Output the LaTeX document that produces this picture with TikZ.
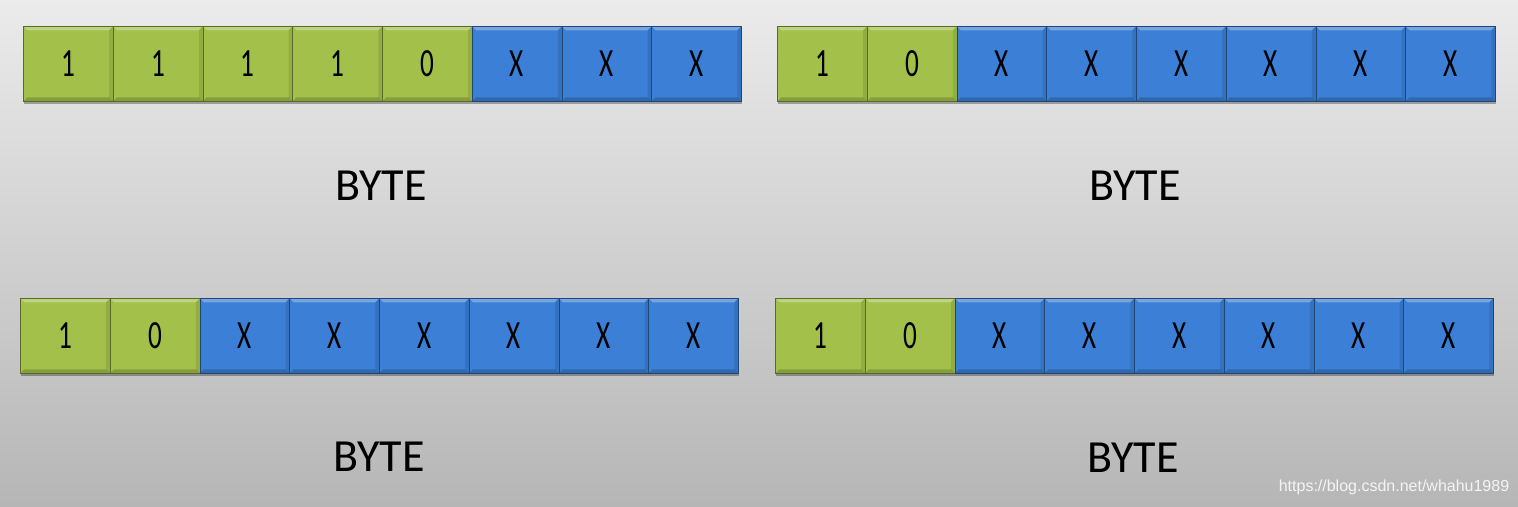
\documentclass[tikz,border=0pt]{standalone}
\usepackage{fontspec}
\setmainfont{Carlito}
\newfontfamily\wmfont{Liberation Sans}
\usetikzlibrary{shadows}
\definecolor{gcell}{HTML}{A3C14A}
\definecolor{bcell}{HTML}{3B7FD6}
\definecolor{bgtop}{HTML}{EBEBEB}
\definecolor{bgbot}{HTML}{B6B6B6}
\newcommand\bt[1]{\raisebox{-3pt}{\scalebox{0.68}[1]{#1}}}
\newcommand\byterow[5]{%
  \foreach \lab [count=\i] in {#5} {
    \pgfmathsetmacro\xx{#2+(\i-1)*89.75}
    \ifnum\i>#4 \def\cellcol{bcell}\else\def\cellcol{gcell}\fi
    \node[cell,fill=\cellcol,draw=\cellcol!55!black] (#1c\i) at (\xx,#3) {\bt{\lab}};
  }}
\begin{document}
\begin{tikzpicture}[x=1pt,y=1pt,
  cell/.style={minimum width=89.75pt,minimum height=75pt,inner sep=0pt,anchor=north west,
    line width=0.7pt,font=\fontsize{40}{40}\selectfont,
    drop shadow={shadow xshift=1pt,shadow yshift=-3pt,opacity=0.3,fill=black},
    path picture={
      \fill[white,opacity=0.3] (path picture bounding box.north west) -- (path picture bounding box.north east)
        -- ([xshift=-4pt,yshift=-4pt]path picture bounding box.north east) -- ([xshift=4pt,yshift=-4pt]path picture bounding box.north west) -- cycle;
      \fill[black,opacity=0.18] (path picture bounding box.south west) -- (path picture bounding box.south east)
        -- ([xshift=-4pt,yshift=4pt]path picture bounding box.south east) -- ([xshift=4pt,yshift=4pt]path picture bounding box.south west) -- cycle;
      \fill[black,opacity=0.1] (path picture bounding box.north east) -- (path picture bounding box.south east)
        -- ([xshift=-4pt,yshift=4pt]path picture bounding box.south east) -- ([xshift=-4pt,yshift=-4pt]path picture bounding box.north east) -- cycle;
    }},
  bytelab/.style={font=\fontsize{46}{46}\selectfont,text=black},
  wmark/.style={font=\wmfont\fontsize{16}{16}\selectfont,text=white,opacity=0.85}
]
\shade[top color=bgtop,bottom color=bgbot] (0,0) rectangle (1518,506);
\useasboundingbox (0,0) rectangle (1518,506);

\byterow{a}{23}{480}{5}{1,1,1,1,0,X,X,X}
\byterow{b}{777}{480}{2}{1,0,X,X,X,X,X,X}
\byterow{c}{20}{208}{2}{1,0,X,X,X,X,X,X}
\byterow{d}{775}{208}{2}{1,0,X,X,X,X,X,X}

\node[bytelab] (la) at (381,320) {BYTE};
\node[bytelab] (lb) at (1135,320) {BYTE};
\node[bytelab] (lc) at (379,49) {BYTE};
\node[bytelab] (ld) at (1133,48) {BYTE};

\node[wmark] (wm) at (1394,19) {https://blog.csdn.net/whahu1989};
\end{tikzpicture}
\end{document}
